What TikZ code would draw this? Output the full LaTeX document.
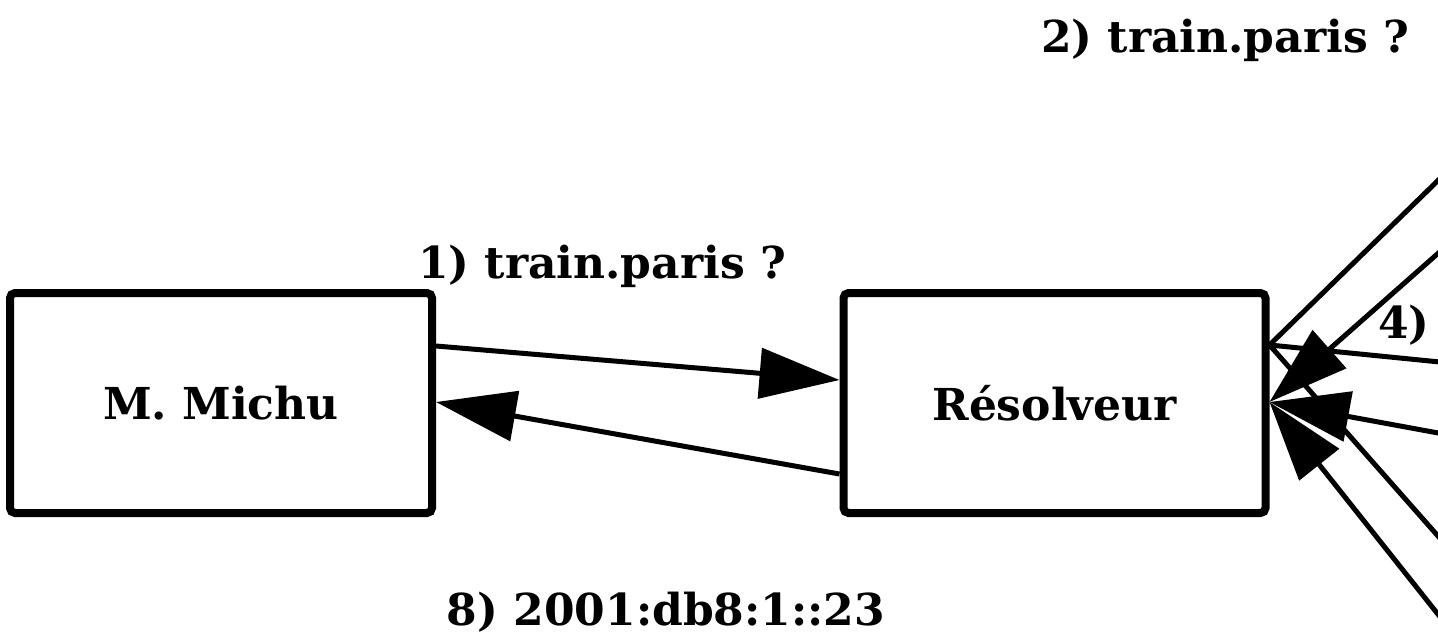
\documentclass[tikz,border=0pt]{standalone}
\usepackage{fontspec}
\setmainfont{DejaVu Serif}
\usetikzlibrary{arrows.meta, calc}

\begin{document}
\begin{tikzpicture}[x=1pt, y=-1pt,
    host/.style={draw, line width=8pt, rounded corners=5pt, minimum width=422pt, minimum height=220pt, font=\fontsize{44}{52}\selectfont\bfseries},
    txt/.style={inner sep=0pt, font=\fontsize{44}{52}\selectfont\bfseries},
    link/.style={line width=5pt},
    arr/.style={link, -{Triangle[length=80pt, width=50pt]}}]
    \useasboundingbox (0, 0) rectangle (1438, 641);
    \clip (0, 0) rectangle (1438, 641);
    \node[host] (michu) at (221, 403) {M. Michu};
    \node[host] (resolver) at (1054.5, 403) {Résolveur};
    \node[txt] (q1) at (602, 266) {1) train.paris ?};
    \node[txt] (a8) at (666, 612) {8) 2001:db8:1::23};
    \node[txt] (q2) at (1225, 40) {2) train.paris ?};
    \node[txt, anchor=west] (q4) at (1378, 325) {4)};
    % ends on the boxes
    \coordinate (michu out) at ([yshift=57pt]michu.east);
    \coordinate (michu in) at ([yshift=1pt]michu.east);
    \coordinate (resolver in) at ([yshift=23pt]resolver.west);
    \coordinate (resolver out) at ([yshift=-71pt]resolver.west);
    \coordinate (resolver ask) at ([yshift=58pt]resolver.east);
    \coordinate (resolver get) at ([yshift=1pt]resolver.east);
    % servers beyond the right edge
    \coordinate (root q) at (1460, 159);
    \coordinate (root r) at (1460, 234);
    \coordinate (tld q) at (1460, 364);
    \coordinate (tld r) at (1460, 437);
    \coordinate (auth q) at (1460, 561);
    \coordinate (auth r) at (1460, 642);
    \draw[arr] (michu out) -- (resolver in);
    \draw[arr] (resolver out) -- (michu in);
    \draw[link]
    (resolver ask) -- (root q)
    (resolver ask) -- (tld q)
    (resolver ask) -- (auth q);
    \draw[arr] (root r) -- (resolver get);
    \draw[arr] (tld r) -- (resolver get);
    \draw[arr] (auth r) -- (resolver get);
\end{tikzpicture}
\end{document}
